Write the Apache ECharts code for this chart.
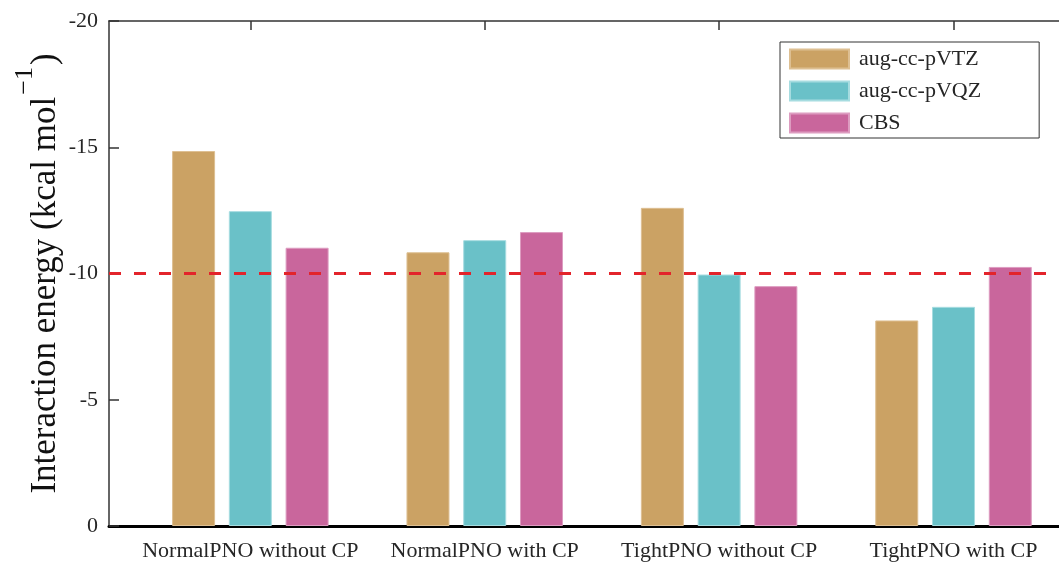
<!DOCTYPE html>
<html><head><meta charset="utf-8">
<script src="https://cdn.jsdelivr.net/npm/echarts@6/dist/echarts.min.js"></script>
<style>html,body{margin:0;padding:0;background:#fff}#c{width:1059px;height:565px}</style>
</head><body><div id="c"></div>
<script>
const categories = ['NormalPNO without CP', 'NormalPNO with CP', 'TightPNO without CP', 'TightPNO with CP'];
const seriesNames = ['aug-cc-pVTZ', 'aug-cc-pVQZ', 'CBS'];
const vtz = [-14.85, -10.84, -12.60, -8.14];
const vqz = [-12.47, -11.32, -9.96, -8.68];
const cbs = [-11.02, -11.64, -9.50, -10.26];
const referenceLine = -10;
const yMin = -20, yMax = 0, yStep = 5;
const colors = ['#CBA264', '#6AC1C8', '#C9669C'];
const borderColors = ['#DDBF92', '#A6DCE0', '#DD9CC0'];

const FONT = 'Liberation Serif';
const TXT = '#262626';
const positions = categories.map((c, i) => i + 1);
const allSeries = [vtz, vqz, cbs];

const chart = echarts.init(document.getElementById('c'), null, {renderer: 'canvas'});
const series = allSeries.map((vals, k) => ({
  name: seriesNames[k],
  type: 'bar',
  xAxisIndex: 0,
  barWidth: 43,
  barGap: '32%',
  itemStyle: {color: colors[k], borderColor: borderColors[k], borderWidth: 1},
  data: vals.map((v, i) => [positions[i], v]),
  markLine: k === 0 ? {
    silent: true, symbol: 'none', animation: false,
    label: {show: false},
    lineStyle: {color: '#E3242B', width: 3, type: [12, 13]},
    data: [{yAxis: referenceLine}]
  } : undefined
}));

chart.setOption({
  animation: false,
  backgroundColor: '#ffffff',
  grid: {left: 109, right: 0, top: 21, bottom: 39, containLabel: false},
  legend: {
    data: seriesNames,
    orient: 'vertical', left: 780, top: 42,
    itemWidth: 59, itemHeight: 19, itemGap: 10,
    padding: [6, 58, 4, 9],
    borderColor: '#333', borderWidth: 1, backgroundColor: '#fff',
    icon: 'rect',
    textStyle: {fontFamily: FONT, fontSize: 22, color: TXT, padding: [0, 0, 0, 5]}
  },
  xAxis: [{
    type: 'value', position: 'bottom', min: 0.397, max: 4.45,
    axisLine: {show: true, onZero: false, lineStyle: {color: '#000', width: 3}},
    axisTick: {show: false},
    splitLine: {show: false},
    axisLabel: {
      customValues: positions,
      formatter: v => categories[Math.round(v) - 1] || '',
      fontFamily: FONT, fontSize: 22, color: TXT, margin: 14
    }
  }, {
    type: 'value', position: 'top', min: 0.397, max: 4.45,
    axisLine: {show: true, onZero: false, lineStyle: {color: '#333', width: 1.5}},
    axisTick: {show: true, inside: true, length: 9, customValues: positions, lineStyle: {color: '#333', width: 1.5}},
    axisLabel: {show: false},
    splitLine: {show: false}
  }],
  yAxis: {
    type: 'value', inverse: true, min: yMin, max: yMax, interval: yStep,
    axisLine: {show: true, onZero: false, lineStyle: {color: '#333', width: 1.5}},
    axisTick: {show: true, inside: true, length: 10, lineStyle: {color: '#333', width: 1.5}},
    splitLine: {show: false},
    axisLabel: {fontFamily: FONT, fontSize: 22, color: TXT, margin: 11},
    name: '{a|Interaction energy (kcal mol}{s|\u22121}{a|)}',
    nameLocation: 'middle',
    nameGap: 56,
    nameMoveOverlap: false,
    nameTextStyle: {
      fontFamily: FONT, color: '#111',
      rich: {
        a: {fontFamily: FONT, fontSize: 35, lineHeight: 35, color: '#111', padding: [20, 0, 0, 0]},
        s: {fontFamily: FONT, fontSize: 26, lineHeight: 26, color: '#111', padding: [0, 2, 20, 2]}
      }
    }
  },
  series: series
});
</script>
</body></html>
